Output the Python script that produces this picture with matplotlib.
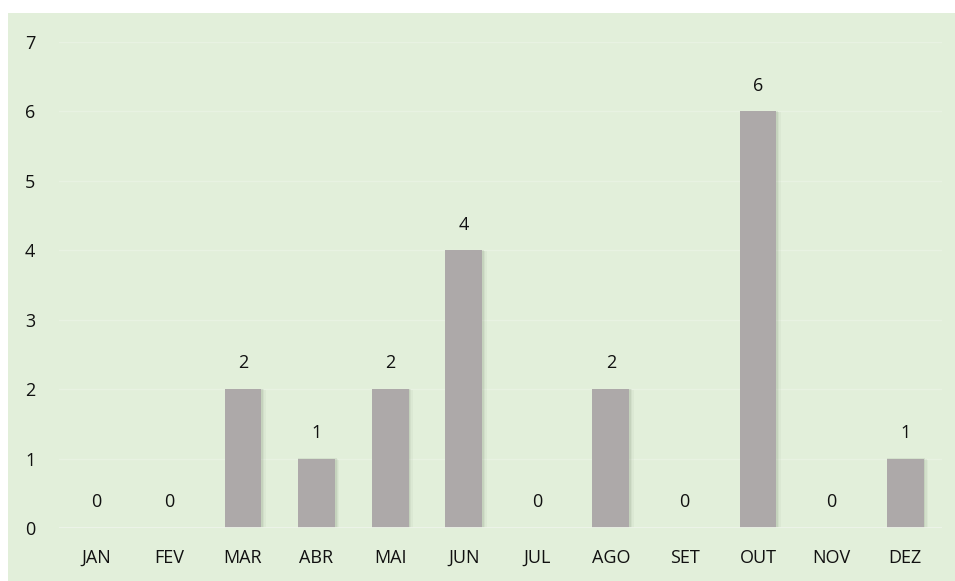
import matplotlib
matplotlib.use("Agg")
import matplotlib.pyplot as plt
from matplotlib.patches import Rectangle

months = ["JAN", "FEV", "MAR", "ABR", "MAI", "JUN", "JUL", "AGO", "SET", "OUT", "NOV", "DEZ"]
values = [0, 0, 2, 1, 2, 4, 0, 2, 0, 6, 0, 1]
yticks = [0, 1, 2, 3, 4, 5, 6, 7]

plt.rcParams['font.family'] = ['Open Sans', 'DejaVu Sans']

W, H = 955, 581
fig = plt.figure(figsize=(W / 100, H / 100), dpi=100)
fig.patch.set_facecolor("white")
bg = "#E2EFDA"
fig.patches.append(Rectangle((8 / W, 0), 1 - 8 / W, 1 - 13 / H, transform=fig.transFigure,
                             facecolor=bg, edgecolor="none", zorder=-10))

ax = fig.add_axes([59 / W, 1 - 528 / H, (942 - 59) / W, (528 - 42) / H])
ax.set_zorder(1)
ax.set_facecolor("none")
x = list(range(len(months)))

# soft shadow
for dx, dy, w, a in [(0.03, -0.035, 0.56, 0.06), (0.02, -0.025, 0.54, 0.08), (0.012, -0.015, 0.52, 0.12)]:
    ax.bar([i + dx for i in x], [v + 0.02 for v in values], width=w, bottom=dy,
           color="#6f7f66", alpha=a, linewidth=0, zorder=2)
ax.bar(x, values, width=0.5, color="#ADA9A9", linewidth=0, zorder=3)

fs = 13
for i, v in zip(x, values):
    ax.text(i, v + 0.37, str(v), ha="center", va="center", fontsize=fs, color="#111111", zorder=4)

ax.set_xlim(-0.5, len(months) - 0.5)
ax.set_ylim(0, 7)
ax.set_yticks(yticks)
ax.set_yticklabels([str(t) for t in yticks], fontsize=fs, color="#111111")
ax.set_xticks(x)
ax.set_xticklabels(months, fontsize=fs, color="#111111")
ax.tick_params(axis="both", length=0)
ax.tick_params(axis="y", pad=17)
ax.tick_params(axis="x", pad=15)
for s in ax.spines.values():
    s.set_visible(False)
ax.grid(axis="y", color="#E8F2E2", linewidth=1.0, zorder=1)
ax.set_axisbelow(True)
ax.axhline(0, color="#EEF4EA", linewidth=2, zorder=5)

fig.savefig("out.png", dpi=100)
